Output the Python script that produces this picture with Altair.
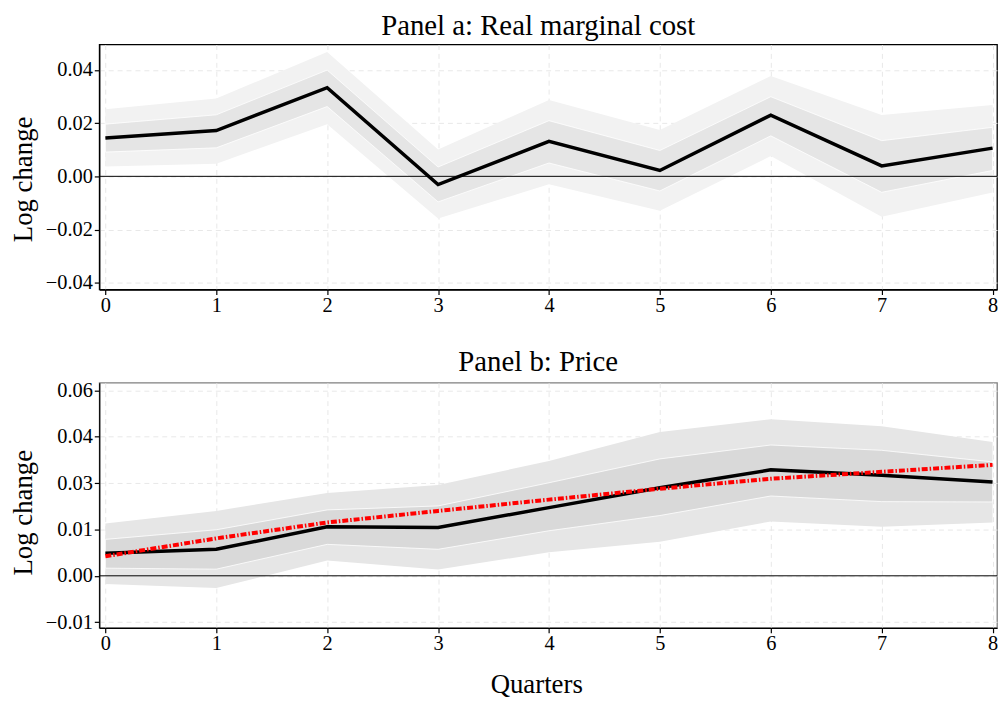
import altair as alt
import pandas as pd

quarters = [0, 1, 2, 3, 4, 5, 6, 7, 8]

# Panel a: real marginal cost
a_irf = [0.0144, 0.0172, 0.0333, -0.0031, 0.0131, 0.0022, 0.0230, 0.0039, 0.0106]
a_in_hi = [0.0196, 0.0231, 0.0399, 0.0035, 0.0209, 0.0097, 0.0299, 0.0134, 0.0184]
a_in_lo = [0.0091, 0.0107, 0.0262, -0.0096, 0.0050, -0.0055, 0.0152, -0.0060, 0.0022]
a_out_hi = [0.0252, 0.0292, 0.0467, 0.0101, 0.0287, 0.0174, 0.0377, 0.0230, 0.0268]
a_out_lo = [0.0037, 0.0047, 0.0196, -0.0158, -0.0030, -0.0129, 0.0076, -0.0152, -0.0061]

# Panel b: price
b_irf = [0.0068, 0.0080, 0.0148, 0.0146, 0.0206, 0.0266, 0.0320, 0.0304, 0.0283]
b_model = [0.0059, 0.0113, 0.0161, 0.0196, 0.0230, 0.0263, 0.0293, 0.0314, 0.0335]
b_in_hi = [0.0110, 0.0139, 0.0199, 0.0211, 0.0281, 0.0353, 0.0395, 0.0379, 0.0344]
b_in_lo = [0.0023, 0.0020, 0.0095, 0.0080, 0.0136, 0.0182, 0.0241, 0.0224, 0.0223]
b_out_hi = [0.0158, 0.0196, 0.0250, 0.0274, 0.0347, 0.0434, 0.0473, 0.0452, 0.0404]
b_out_lo = [-0.0025, -0.0037, 0.0046, 0.0019, 0.0071, 0.0103, 0.0164, 0.0148, 0.0161]

a_ticks = [-0.04, -0.02, 0.0, 0.02, 0.04]
b_ticks = [-0.014, 0.0, 0.014, 0.028, 0.042, 0.056]

FONT = "Liberation Serif"
W, H = 905, 247

df_a = pd.DataFrame({"q": quarters, "irf": a_irf, "ih": a_in_hi, "il": a_in_lo,
                     "oh": a_out_hi, "ol": a_out_lo})
df_b = pd.DataFrame({"q": quarters, "irf": b_irf, "model": b_model, "ih": b_in_hi,
                     "il": b_in_lo, "oh": b_out_hi, "ol": b_out_lo})

grid_kw = dict(grid=True, gridColor="#e8e8e8", gridDash=[5, 4], gridWidth=1,
               tickColor="black", tickSize=5, tickWidth=1.2, domainColor="black", domainWidth=1.3,
               labelFont=FONT, labelFontSize=20.5, labelColor="black",
               titleFont=FONT, titleFontSize=27, titleFontWeight="normal", titleColor="black")


def panel(df, title, ydom, yticks, xtitle, outer_col, inner_col, frame_col, ytitle_shift,
          extra=None):
    xs = alt.Scale(domain=[-0.055, 8.04], nice=False, zero=False)
    ys = alt.Scale(domain=ydom, nice=False, zero=False)
    if xtitle:
        xax = alt.Axis(values=quarters, format="d", labelPadding=1, titlePadding=18,
                       titleX=W / 2 - 12, title=xtitle, **grid_kw)
    else:
        xax = alt.Axis(values=quarters, format="d", labelPadding=1, title=None, **grid_kw)
    yax = alt.Axis(values=yticks, format=".2f", labelPadding=2, titlePadding=8,
                   titleY=H / 2 + ytitle_shift, title="Log change", **grid_kw)
    base = alt.Chart(df)
    x = alt.X("q:Q", scale=xs, axis=xax)
    outer = base.mark_area(color=outer_col, opacity=1).encode(
        x=x, y=alt.Y("ol:Q", scale=ys, axis=yax), y2="oh:Q")
    inner = base.mark_area(color=inner_col, opacity=1, stroke="white", strokeWidth=0.8).encode(
        x="q:Q", y="il:Q", y2="ih:Q")
    zero = alt.Chart(pd.DataFrame({"z": [0.0]})).mark_rule(color="black", strokeWidth=1).encode(
        y="z:Q")
    line = base.mark_line(color="black", strokeWidth=3.5).encode(x="q:Q", y="irf:Q")
    layers = [outer, inner, zero, line]
    if extra is not None:
        layers.append(base.mark_line(color="#ff0000", strokeWidth=4,
                                     strokeDash=[6, 2, 1.5, 2]).encode(x="q:Q", y=f"{extra}:Q"))
    return alt.layer(*layers).properties(
        width=W, height=H,
        title=alt.TitleParams(title, font=FONT, fontSize=29, fontWeight="normal",
                              color="black", anchor="middle", offset=4, dx=-10),
        view=alt.ViewBackground(stroke=frame_col, strokeWidth=1.3),
    )


pa = panel(df_a, "Panel a: Real marginal cost", [-0.0425, 0.0495], a_ticks, None,
           "#f2f2f2", "#e5e5e5", "black", 12)
pb = panel(df_b, "Panel b: Price", [-0.0157, 0.0583], b_ticks, "Quarters",
           "#e6e6e6", "#d9d9d9", "#808080", 7, extra="model")

chart = alt.vconcat(pa, pb, spacing=30).properties(
    padding={"left": 0, "top": 0, "right": -4, "bottom": -3}
).configure(background="white")

chart.save("out.html", embed_options={"renderer": "svg", "actions": False})
